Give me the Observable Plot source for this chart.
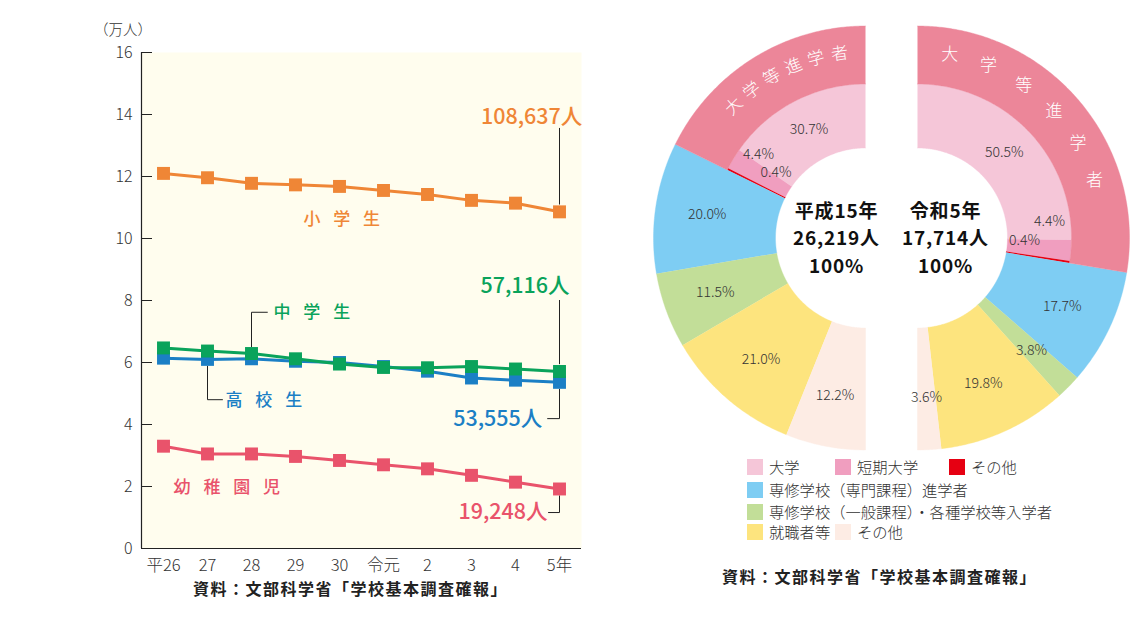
<!DOCTYPE html>
<html><head><meta charset="utf-8">
<script src="https://cdn.jsdelivr.net/npm/d3@7"></script>
<script src="https://cdn.jsdelivr.net/npm/@observablehq/plot@0.6"></script>
<style>
body{margin:0;background:#fff;font-family:"Noto Sans CJK JP","Noto Sans",sans-serif;}
#root{position:relative;width:1139px;height:633px;overflow:hidden;background:#fff;}
.abs{position:absolute;white-space:nowrap;}
.cap{font-weight:700;font-size:16px;color:#222;letter-spacing:1.5px;}
.lg{font-size:15.3px;color:#333;font-weight:300;line-height:16px;}
.sw{position:absolute;width:16px;height:16px;}
</style></head><body><div id="root"></div>
<script>
// ---------- line chart data ----------
const years = ["平26","27","28","29","30","令元","2","3","4","5年"];
const elementary   = [12.10,11.96,11.78,11.73,11.68,11.55,11.42,11.23,11.14,10.86];
const juniorHigh   = [6.47,6.37,6.29,6.12,5.95,5.84,5.83,5.87,5.79,5.71];
const highSchool   = [6.14,6.10,6.12,6.04,6.00,5.87,5.72,5.50,5.43,5.36];
const kindergarten = [3.30,3.05,3.05,2.97,2.84,2.70,2.57,2.36,2.14,1.92];
const seriesNames  = ["小 学 生","中 学 生","高 校 生","幼 稚 園 児"];
const seriesColors = ["#ef8636","#0aa35b","#1b7fc5","#e9536b"];
const lastLabels   = ["108,637人","57,116人","53,555人","19,248人"];
const yTicks = [0,2,4,6,8,10,12,14,16];
const yUnit = "（万人）";

// ---------- donut data ----------
const categories = ["大学","短期大学","その他","専修学校（専門課程）進学者","専修学校（一般課程）・各種学校等入学者","就職者等","その他"];
const catColors  = ["#f5c6d8","#f09ebf","#e60012","#7ecdf3","#c2de98","#fde47e","#fdece4"];
const share2003  = [30.7,4.4,0.4,20.0,11.5,21.0,12.2];
const share2023  = [50.5,4.4,0.4,17.7,3.8,19.8,3.6];
const center2003 = ["平成15年","26,219人","100%"];
const center2023 = ["令和5年","17,714人","100%"];
const groupLabel = "大学等進学者";
const groupColor = "#ec8699";
const source = "資料：文部科学省「学校基本調査確報」";

const FONT = '"Noto Sans CJK JP","Noto Sans",sans-serif';
const root = document.getElementById("root");

// ================= LINE CHART =================
const allSeries = [elementary, juniorHigh, highSchool, kindergarten];
const rows = allSeries.flatMap((arr,s)=>arr.map((v,i)=>({s,i,v})));
const last = years.length-1;
const drawOrder = [0,3,2,1];
const seriesMarks = drawOrder.flatMap(s=>{
  const d = rows.filter(r=>r.s===s);
  return [
    Plot.line(d,{x:"i",y:"v",stroke:seriesColors[s],strokeWidth:3}),
    Plot.dot(d,{x:"i",y:"v",symbol:"square",r:7.3,fill:seriesColors[s],stroke:"none"})
  ];
});
const leader = {stroke:"#222",strokeWidth:1};
const lineChart = Plot.plot({
  width:600, height:600,
  marginLeft:141, marginRight:19, marginTop:52, marginBottom:52,
  x:{domain:[-0.5,last+0.5]},
  y:{domain:[0,16]},
  style:{fontFamily:FONT, color:"#333", background:"transparent", overflow:"visible"},
  marks:[
    Plot.frame({fill:"#fffdee", stroke:"none"}),
    Plot.axisY({ticks:yTicks, tickSize:-11, tickPadding:20, fontSize:16, fontWeight:300, stroke:"#222", label:null}),
    Plot.axisX({ticks:d3.range(years.length), tickFormat:i=>years[i], tickSize:0, tickPadding:11, fontSize:16.5, fontWeight:300, label:null}),
    Plot.ruleX([-0.5],{y1:0,y2:16,stroke:"#222",strokeWidth:1.2}),
    Plot.ruleY([0],{stroke:"#222",strokeWidth:1.2}),
    // leaders
    Plot.ruleX([last],{y1:13.55,y2:elementary[last]+0.22,...leader}),
    Plot.ruleX([last],{y1:8.0,y2:juniorHigh[last]+0.22,...leader}),
    Plot.line([[last,highSchool[last]-0.22],[last,4.19],[8.73,4.19]],{...leader}),
    Plot.line([[last,kindergarten[last]-0.22],[last,1.16],[8.75,1.16]],{...leader}),
    Plot.line([[2,juniorHigh[2]+0.22],[2,7.62],[2.36,7.62]],{...leader}),
    Plot.line([[1,highSchool[1]-0.22],[1,4.8],[1.34,4.8]],{...leader}),
    ...seriesMarks,
    // series names
    Plot.text([seriesNames[0]],{x:3.18,y:10.62,text:d=>d,textAnchor:"start",fill:seriesColors[0],fontSize:17,fontWeight:500}),
    Plot.text([seriesNames[1]],{x:2.5,y:7.62,text:d=>d,textAnchor:"start",fill:seriesColors[1],fontSize:17,fontWeight:500}),
    Plot.text([seriesNames[2]],{x:1.41,y:4.77,text:d=>d,textAnchor:"start",fill:seriesColors[2],fontSize:17,fontWeight:500}),
    Plot.text([seriesNames[3]],{x:0.23,y:1.97,text:d=>d,textAnchor:"start",fill:seriesColors[3],fontSize:17,fontWeight:500}),
    // value labels
    Plot.text([lastLabels[0]],{x:9.52,y:13.9,text:d=>d,textAnchor:"end",fill:seriesColors[0],fontSize:21.5,fontWeight:500}),
    Plot.text([lastLabels[1]],{x:9.23,y:8.45,text:d=>d,textAnchor:"end",fill:seriesColors[1],fontSize:21.5,fontWeight:500}),
    Plot.text([lastLabels[2]],{x:8.61,y:4.19,text:d=>d,textAnchor:"end",fill:seriesColors[2],fontSize:21.5,fontWeight:500}),
    Plot.text([lastLabels[3]],{x:8.73,y:1.16,text:d=>d,textAnchor:"end",fill:seriesColors[3],fontSize:21.5,fontWeight:500})
  ]
});
d3.select(lineChart).selectAll("text")
  .filter(function(){ return seriesNames.includes(this.textContent); })
  .attr("letter-spacing","4.5px").style("letter-spacing","4.5px").style("white-space","pre");
lineChart.style.position="absolute"; lineChart.style.left="0px"; lineChart.style.top="0px";
root.appendChild(lineChart);

function addDiv(cls, text, left, top, extra){
  const d=document.createElement("div"); d.className="abs "+cls; d.textContent=text;
  d.style.left=left+"px"; d.style.top=top+"px"; if(extra) Object.assign(d.style,extra);
  root.appendChild(d); return d;
}
addDiv("", yUnit, 94, 18, {fontSize:"14.5px",color:"#333",fontWeight:"300"});
addDiv("cap", source, 193, 576);

// ================= DONUT =================
const DX0=630, DW=509, DH=455, CX=891, CY=237.5;
const R_IN=90, R_MID=154, R_OUT=212, HALF=26;
function geometry(shares){
  const tot=d3.sum(shares); let acc=0;
  return shares.map((p,k)=>{const a0=acc/tot*180; acc+=p; return {k,p,a0,a1:acc/tot*180};});
}
function polar(dir,a,r){const t=a*Math.PI/180; return [dir*(HALF+r*Math.sin(t)), r*Math.cos(t)];}
function arcPoly(id,color,dir,a0,a1,r0,r1){
  const n=Math.max(2,Math.ceil((a1-a0)/0.5)); const pts=[];
  for(let j=0;j<=n;j++){const [x,y]=polar(dir,a0+(a1-a0)*j/n,r1); pts.push({id,color,x,y});}
  for(let j=n;j>=0;j--){const [x,y]=polar(dir,a0+(a1-a0)*j/n,r0); pts.push({id,color,x,y});}
  return pts;
}
const halves=[{dir:-1,shares:share2003,key:"L"},{dir:1,shares:share2023,key:"R"}];
let polys=[], labels=[], ringChars=[];
// per-half label placement overrides for the two thin slices
const labelOverride={L:{1:[51.9,136],2:[53.7,111]}, R:{1:[82.7,133],2:[91.6,107]}};
halves.forEach(h=>{
  const g=geometry(h.shares);
  g.forEach(s=>{
    const inner=s.k<3;
    polys.push(...arcPoly(h.key+s.k,catColors[s.k],h.dir,s.a0,s.a1,R_IN,inner?R_MID:R_OUT));
    const ov=labelOverride[h.key][s.k];
    const a=ov?ov[0]:(s.a0+s.a1)/2, r=ov?ov[1]:(inner?122:160);
    const [x,y]=polar(h.dir,a,r);
    labels.push({x,y,t:s.p.toFixed(1)+"%"});
  });
  const gEnd=g[2].a1;
  polys.push(...arcPoly(h.key+"G",groupColor,h.dir,0,gEnd,R_MID,R_OUT));
  [...groupLabel].forEach((c,j)=>{
    const a = h.dir<0 ? 45-j*7.4 : 10+j*12.4;
    const [x,y]=polar(h.dir,a,186);
    ringChars.push({x,y,c,rot:h.dir<0?-a:0});
  });
});
const centerText=[
  {x:-55,y:1.5,t:center2003.join("\n")},
  {x:54,y:1.5,t:center2023.join("\n")}
];
const donut=Plot.plot({
  width:DW, height:DH, margin:0,
  x:{domain:[DX0-CX, DX0+DW-CX], range:[0,DW], axis:null},
  y:{domain:[CY-DH, CY], range:[DH,0], axis:null},
  color:{type:"identity"},
  style:{fontFamily:FONT, background:"transparent", overflow:"visible"},
  marks:[
    Plot.line(polys,{x:"x",y:"y",z:"id",fill:"color",stroke:"color",strokeWidth:0.4,curve:"linear"}),
    Plot.text(labels,{x:"x",y:"y",text:"t",fill:"#333",fontSize:14,fontWeight:300}),
    Plot.text(ringChars,{x:"x",y:"y",text:"c",rotate:"rot",fill:"#fff",fontSize:17,fontWeight:300}),
    Plot.text(centerText,{x:"x",y:"y",text:"t",fill:"#111",fontSize:19,fontWeight:700,lineHeight:27.5/19,lineAnchor:"middle"})
  ]
});
d3.select(donut).selectAll("text")
  .filter(function(){ return this.textContent.includes("100%") && this.textContent.length>6; })
  .style("letter-spacing","0.8px");
donut.style.position="absolute"; donut.style.left=DX0+"px"; donut.style.top="0px";
root.appendChild(donut);

// legend
const legendItems=[
  {k:0,x:747,y:459},{k:1,x:835,y:459},{k:2,x:949,y:459},
  {k:3,x:747,y:482},{k:4,x:747,y:504},
  {k:5,x:747,y:524},{k:6,x:835,y:524}
];
legendItems.forEach(it=>{
  const s=document.createElement("div"); s.className="sw";
  s.style.left=it.x+"px"; s.style.top=it.y+"px"; s.style.background=catColors[it.k];
  root.appendChild(s);
  addDiv("lg",categories[it.k],it.x+22,it.y-1);
});
addDiv("cap", source, 722, 564);
</script></body></html>
